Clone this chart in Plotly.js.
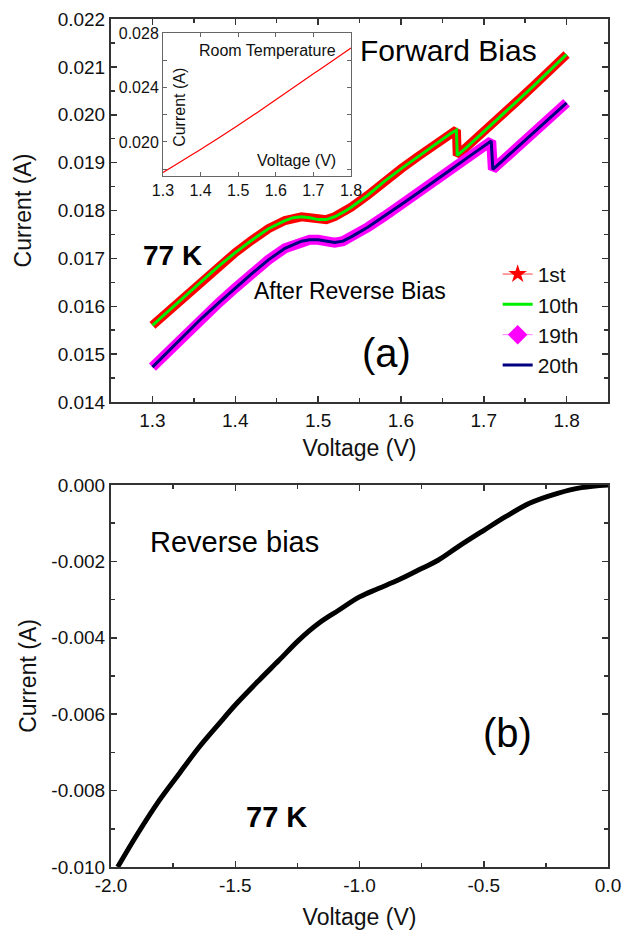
<!DOCTYPE html>
<html><head><meta charset="utf-8">
<script src="https://cdn.plot.ly/plotly-3.0.1.min.js"></script>
<style>html,body{margin:0;padding:0;background:#fff}#chart{width:625px;height:943px}</style>
</head><body><div id="chart"></div>
<script>
// ---- Data ----
// (a) 77 K forward bias: 1st / 10th sweeps
const upperV = [1.30,1.32,1.34,1.36,1.38,1.40,1.42,1.44,1.46,1.47,1.48,1.49,1.50,1.51,1.52,1.53,1.54,1.56,1.58,1.60,1.62,1.64,1.66,1.667,1.668,1.68,1.70,1.72,1.74,1.76,1.78,1.80];
const upperI = [0.01560,0.01591,0.01622,0.01653,0.01684,0.01712,0.01738,0.01762,0.01779,0.01785,0.01787,0.01785,0.01781,0.01781,0.01787,0.01796,0.01807,0.01832,0.01861,0.01887,0.01912,0.01937,0.01961,0.01968,0.01915,0.01933,0.01964,0.01996,0.02028,0.02060,0.02093,0.02126];
// (a) after reverse bias: 19th / 20th sweeps
const lowerV = [1.30,1.32,1.34,1.36,1.38,1.40,1.42,1.44,1.46,1.48,1.49,1.50,1.51,1.52,1.53,1.54,1.56,1.58,1.60,1.62,1.64,1.66,1.68,1.70,1.709,1.711,1.72,1.74,1.76,1.78,1.80];
const lowerI = [0.01473,0.01508,0.01543,0.01576,0.01607,0.01638,0.01668,0.01697,0.01721,0.01736,0.01739,0.01739,0.01736,0.01733,0.01736,0.01745,0.01765,0.01788,0.01812,0.01836,0.01860,0.01885,0.01910,0.01935,0.01945,0.01886,0.01900,0.01931,0.01962,0.01993,0.02025];
// inset: room temperature
const insetV = [1.30,1.35,1.40,1.45,1.50,1.55,1.60,1.65,1.70,1.75,1.80];
const insetI = [0.01775,0.01860,0.01945,0.02032,0.02122,0.02215,0.02310,0.02405,0.02500,0.02595,0.02690];
// (b) reverse bias
const reverseV = [-1.973,-1.893,-1.805,-1.725,-1.645,-1.564,-1.5,-1.404,-1.324,-1.244,-1.164,-1.084,-1.0,-0.924,-0.844,-0.748,-0.684,-0.604,-0.498,-0.412,-0.316,-0.203,-0.107,0];
const reverseI = [-0.0100,-0.00913,-0.00825,-0.00755,-0.00686,-0.00624,-0.00576,-0.00511,-0.00459,-0.00406,-0.00362,-0.00328,-0.00293,-0.00271,-0.00249,-0.00218,-0.00197,-0.00162,-0.00118,-0.00083,-0.00048,-0.00022,-0.00007,0];

const seriesNames = ["1st","10th","19th","20th"];

// tick labels
const topXVals = [1.3,1.4,1.5,1.6,1.7,1.8];
const topXText = ["1.3","1.4","1.5","1.6","1.7","1.8"];
const topYVals = [0.014,0.015,0.016,0.017,0.018,0.019,0.020,0.021,0.022];
const topYText = ["0.014","0.015","0.016","0.017","0.018","0.019","0.020","0.021","0.022"];
const botXVals = [-2.0,-1.5,-1.0,-0.5,0.0];
const botXText = ["-2.0","-1.5","-1.0","-0.5","0.0"];
const botYVals = [0,-0.002,-0.004,-0.006,-0.008,-0.010];
const botYText = ["0.000","-0.002","-0.004","-0.006","-0.008","-0.010"];
const insXVals = [1.3,1.4,1.5,1.6,1.7,1.8];
const insXText = ["1.3","1.4","1.5","1.6","1.7","1.8"];
const insYVals = [0.018,0.020,0.022,0.024,0.026,0.028];
const insYText = ["","0.020","","0.024","","0.028"];

// ---- Traces ----
const traces = [
  {x: upperV, y: upperI, mode:'lines', line:{color:'#ff0000', width:9, shape:'linear'}, showlegend:false, hoverinfo:'skip', xaxis:'x', yaxis:'y'},
  {x:[null], y:[null], name: seriesNames[0], legendgroup:'g1', mode:'lines+markers', line:{color:'#ff4040', width:1}, marker:{symbol:'star', size:14, color:'#ff0000'}, xaxis:'x', yaxis:'y'},
  {x: upperV, y: upperI, name: seriesNames[1], legendgroup:'g2', mode:'lines', line:{color:'#00ee00', width:3, shape:'linear'}, xaxis:'x', yaxis:'y'},
  {x: lowerV, y: lowerI, mode:'lines', line:{color:'#ff00ff', width:10, shape:'linear'}, showlegend:false, hoverinfo:'skip', xaxis:'x', yaxis:'y'},
  {x:[null], y:[null], name: seriesNames[2], legendgroup:'g3', mode:'lines+markers', line:{color:'#ff80ff', width:1}, marker:{symbol:'diamond', size:15, color:'#ff00ff'}, xaxis:'x', yaxis:'y'},
  {x: lowerV, y: lowerI, name: seriesNames[3], legendgroup:'g4', mode:'lines', line:{color:'#000080', width:3, shape:'linear'}, xaxis:'x', yaxis:'y'},
  {x: insetV, y: insetI, mode:'lines', line:{color:'#ff0000', width:1.2, shape:'spline'}, showlegend:false, xaxis:'x3', yaxis:'y3'},
  {x: reverseV, y: reverseI, mode:'lines', line:{color:'#000000', width:5, shape:'spline', smoothing:1}, showlegend:false, xaxis:'x2', yaxis:'y2'}
];

const FONT = 'Liberation Sans, Arial, sans-serif';
const axBase = {showgrid:false, zeroline:false, showline:true, linecolor:'#333', linewidth:2, mirror:'ticks', ticks:'inside', ticklen:6, tickwidth:1.5, tickcolor:'#333', tickfont:{family:FONT, size:19, color:'#111'}, tickmode:'array'};

const layout = {
  width:625, height:943,
  margin:{l:111, r:17, t:19, b:76},
  paper_bgcolor:'#fff', plot_bgcolor:'rgba(0,0,0,0)',
  font:{family:FONT, color:'#111'},
  showlegend:true,
  legend:{x:0.778, y:0.723, xanchor:'left', yanchor:'top', bgcolor:'rgba(0,0,0,0)', font:{family:FONT, size:21, color:'#111'}, tracegroupgap:0, itemwidth:30},
  xaxis: Object.assign({}, axBase, {domain:[0,1], anchor:'y', range:[1.25,1.85], tickvals: topXVals, ticktext: topXText,
    minor:{dtick:0.05, tick0:1.25, ticks:'inside', ticklen:4, tickcolor:'#333'},
    title:{text:'Voltage (V)', font:{family:FONT, size:23, color:'#111'}, standoff:10}}),
  yaxis: Object.assign({}, axBase, {domain:[0.5483,1], anchor:'x', range:[0.014,0.022], tickvals: topYVals, ticktext: topYText,
    minor:{dtick:0.0005, tick0:0.014, ticks:'inside', ticklen:4, tickcolor:'#333'},
    title:{text:'Current (A)', font:{family:FONT, size:23, color:'#111'}, standoff:20}}),
  xaxis2: Object.assign({}, axBase, {domain:[0,1], anchor:'y2', range:[-2,0], tickvals: botXVals, ticktext: botXText,
    minor:{dtick:0.25, tick0:-2, ticks:'inside', ticklen:4, tickcolor:'#333'},
    title:{text:'Voltage (V)', font:{family:FONT, size:23, color:'#111'}, standoff:14}}),
  yaxis2: Object.assign({}, axBase, {domain:[0,0.4505], anchor:'x2', range:[-0.010,0], tickvals: botYVals, ticktext: botYText,
    minor:{dtick:0.001, tick0:0, ticks:'inside', ticklen:4, tickcolor:'#333'},
    title:{text:'Current (A)', font:{family:FONT, size:23, color:'#111'}, standoff:8}}),
  xaxis3: {domain:[0.1046,0.4829], anchor:'y3', range:[1.3,1.8], showgrid:false, zeroline:false, showline:true, linecolor:'#666', linewidth:1, mirror:'ticks', ticks:'inside', ticklen:4, tickcolor:'#666', tickmode:'array', tickvals: insXVals, ticktext: insXText, tickfont:{family:FONT, size:16, color:'#111'}},
  yaxis3: {domain:[0.8149,0.9835], anchor:'x3', range:[0.0175,0.028], showgrid:false, zeroline:false, showline:true, linecolor:'#666', linewidth:1, mirror:'ticks', ticks:'inside', ticklen:4, tickcolor:'#666', tickmode:'array', tickvals: insYVals, ticktext: insYText, tickfont:{family:FONT, size:16, color:'#111'}},
  annotations: [
    {text:'Forward Bias', xref:'x', yref:'y', x:1.657, y:0.02135, showarrow:false, font:{family:FONT, size:30, color:'#000'}},
    {text:'<b>77 K</b>', xref:'x', yref:'y', x:1.324, y:0.01707, showarrow:false, font:{family:FONT, size:28, color:'#000'}},
    {text:'After Reverse Bias', xref:'x', yref:'y', x:1.5386, y:0.01632, showarrow:false, font:{family:FONT, size:23, color:'#000'}},
    {text:'(a)', xref:'x', yref:'y', x:1.582, y:0.01503, showarrow:false, font:{family:FONT, size:40, color:'#000'}},
    {text:'Room Temperature', xref:'x3', yref:'y3', x:1.579, y:0.02675, showarrow:false, font:{family:FONT, size:16, color:'#111'}},
    {text:'Voltage (V)', xref:'x3', yref:'y3', x:1.656, y:0.0186, showarrow:false, font:{family:FONT, size:16, color:'#111'}},
    {text:'Current (A)', xref:'x3', yref:'y3', x:1.345, y:0.02257, showarrow:false, textangle:-90, font:{family:FONT, size:16, color:'#111'}},
    {text:'Reverse bias', xref:'x2', yref:'y2', x:-1.505, y:-0.00149, showarrow:false, font:{family:FONT, size:29, color:'#000'}},
    {text:'(b)', xref:'x2', yref:'y2', x:-0.406, y:-0.00649, showarrow:false, font:{family:FONT, size:40, color:'#000'}},
    {text:'<b>77 K</b>', xref:'x2', yref:'y2', x:-1.336, y:-0.00869, showarrow:false, font:{family:FONT, size:29, color:'#000'}}
  ]
};

Plotly.newPlot('chart', traces, layout, {staticPlot:true, displayModeBar:false});
</script>
</body></html>
